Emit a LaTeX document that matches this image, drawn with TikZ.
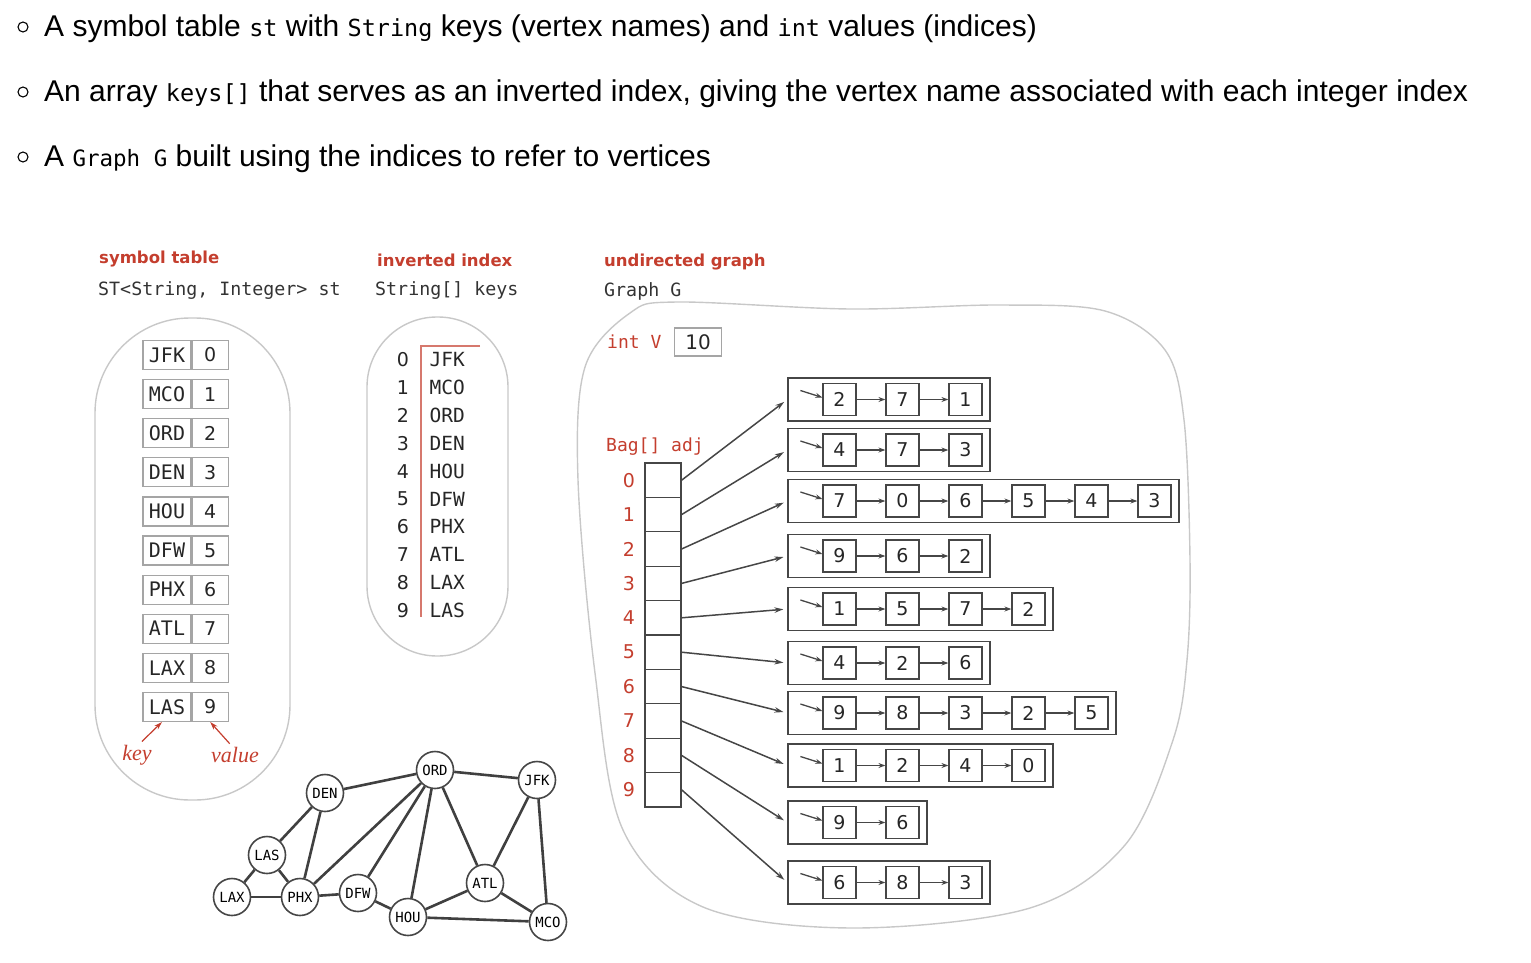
\documentclass[tikz,border=0pt]{standalone}
\usepackage{fontspec}
\setmainfont{Liberation Sans}
\newfontfamily\codefont{DejaVu Sans Mono}
\newfontfamily\labfont{DejaVu Sans}
\newfontfamily\keyfont{Liberation Serif}
\usetikzlibrary{positioning,arrows.meta}
\definecolor{labred}{RGB}{196,62,46}
\definecolor{ovalgray}{RGB}{200,200,200}
\definecolor{boxgray}{RGB}{165,165,165}
\definecolor{linkgray}{RGB}{70,70,70}
\newcommand{\fs}[1]{\fontsize{#1}{#1}\selectfont}
\newcommand{\tcode}[1]{{\codefont\fs{23.5}#1}}

\begin{document}
\begin{tikzpicture}[x=1pt, y=-1pt,
    bullet/.style={draw, circle, line width=1.1pt, minimum size=10pt, inner sep=0pt},
    para/.style={anchor=base west, inner sep=0pt, font=\fs{30}},
    title/.style={anchor=west, inner sep=0pt, text=labred, font=\labfont\bfseries\fs{16.5}},
    decl/.style={anchor=west, inner sep=0pt, font=\codefont\fs{18.3}, text=black!80},
    oval/.style={draw=ovalgray, line width=1.4pt},
    stkey/.style={draw=boxgray, line width=1.2pt, minimum width=48pt, minimum height=29pt, inner sep=0pt, font=\codefont\fs{20}, text=black!85},
    stval/.style={stkey, minimum width=36pt, font=\labfont\fs{19}},
    keylab/.style={text=labred, font=\keyfont\itshape\fs{22}},
    redarrow/.style={-{Stealth[length=8pt, width=5pt]}, draw=labred, line width=1.2pt},
    invnum/.style={font=\labfont\fs{19}, text=black!85},
    invkey/.style={anchor=west, font=\codefont\fs{19.5}, text=black!85},
    redlbl/.style={anchor=west, inner sep=0pt, font=\codefont\fs{18}, text=labred},
    idx/.style={font=\labfont\fs{19}, text=labred},
    numbox/.style={draw=boxgray, line width=1.2pt, minimum width=47pt, minimum height=28pt, inner sep=0pt, font=\labfont\fs{20}, text=black!85},
    cell/.style={draw=linkgray, line width=1.2pt, minimum width=36pt, minimum height=34.4pt, inner sep=0pt},
    bagbox/.style={draw=linkgray, line width=1.3pt, minimum height=43pt, inner sep=0pt},
    listnode/.style={draw=linkgray, line width=1.2pt, fill=white, minimum width=33pt, minimum height=32pt, inner sep=0pt, font=\labfont\fs{19}, text=black!85},
    listarrow/.style={-{Stealth[length=7pt, width=5pt]}, draw=linkgray, line width=1.3pt},
    ptr/.style={-{Stealth[length=9pt, width=5.5pt]}, draw=linkgray, line width=1.5pt, shorten >=4pt},
    vtx/.style={circle, draw=linkgray, line width=1.6pt, fill=white, minimum size=37pt, inner sep=0pt, font=\codefont\fs{14}},
    edge/.style={draw=black!75, line width=2.6pt}
]
\useasboundingbox (0,0) rectangle (1531,963);

% Bulleted text
\node[bullet] (b1) at (23,27) {};
\node[bullet] (b2) at (23,92) {};
\node[bullet] (b3) at (23,157) {};
\node[para] (p1) at (44,37) {A symbol table \tcode{st} with \tcode{String} keys (vertex names) and \tcode{int} values (indices)};
\node[para] (p2) at (44,102) {An array \tcode{keys[]} that serves as an inverted index, giving the vertex name associated with each integer index};
\node[para] (p3) at (44,167) {A {\codefont\fs{22.5}Graph G} built using the indices to refer to vertices};

% Headings
\node[title] (t1) at (99,259) {symbol table};
\node[decl] (d1) at (98,291) {ST<String, Integer> st};
\node[title] (t2) at (377,260) {inverted index};
\node[decl] (d2) at (375,291) {String[] keys};
\node[title] (t3) at (604,262) {undirected graph};
\node[decl] (d3) at (604,291) {Graph G};

% Symbol table
\draw[oval, rounded corners=95pt] (95,318) rectangle (290,800);
\foreach \name [count=\i from 0] in {JFK,MCO,ORD,DEN,HOU,DFW,PHX,ATL,LAX,LAS} {
    \node[stkey] (stk\i) at (167,{355+39.1*\i}) {\name};
    \node[stval, right=0pt of stk\i] (stv\i) {\i};
}
\node[keylab] (keytxt) at (137,755) {key};
\node[keylab] (valtxt) at (235,755) {value};
\draw[redarrow] (keytxt.70) -- ([xshift=-5pt]stk9.south);
\draw[redarrow] (valtxt.115) -- (stv9.south);

% Inverted index
\draw[oval, rounded corners=70pt] (367,317) rectangle (508,656);
\draw[labred!70, line width=1.3pt] (480,346) -- (421,346) -- (421,617);
\foreach \name [count=\i from 0] in {JFK,MCO,ORD,DEN,HOU,DFW,PHX,ATL,LAX,LAS} {
    \node[invnum] (invn\i) at (403,{360+27.8*\i}) {\i};
    \node[invkey] (invk\i) at (426,{360+27.8*\i}) {\name};
}

% Graph data structure
\draw[oval] plot[smooth cycle, tension=0.55] coordinates {(677,302) (850,309) (1000,305) (1105,311) (1165,350) (1184,420) (1190,560) (1187,660) (1173,740) (1125,845) (1030,908) (853,928) (703,907) (623,830) (595,673) (578,480) (585,367) (630,313)};
\node[redlbl] (intv) at (607,342) {int V};
\node[numbox] (vbox) at (698,342) {10};
\node[redlbl] (adjlbl) at (606,447) {Bag[] adj};

\foreach \i in {0,...,9} {
    \node[cell] (cell\i) at (663,{480.2+34.4*\i}) {};
    \node[idx, left=6pt of cell\i] (idx\i) {\i};
}

\foreach \y/\n/\lst [count=\i from 0] in {399.5/3/{2,7,1}, 450/3/{4,7,3}, 501/6/{7,0,6,5,4,3}, 556/3/{9,6,2}, 609/4/{1,5,7,2}, 663/3/{4,2,6}, 713/5/{9,8,3,2,5}, 765.5/4/{1,2,4,0}, 822.5/2/{9,6}, 882.5/3/{6,8,3}} {
    \node[bagbox, minimum width=63pt*\n+13pt] (bag\i) at ({788+(13+63*\n)/2},\y) {};
    \foreach \v [count=\k from 0, remember=\k as \prev (initially -1)] in \lst {
        \node[listnode] (item\i-\k) at ({839.5+63*\k},\y) {\v};
        \ifnum\k>0 \draw[listarrow] (item\i-\prev) -- (item\i-\k); \fi
    }
    \draw[listarrow] ([shift={(-22,-9)}]item\i-0.west) -- ([shift={(0,-2)}]item\i-0.west);
    \draw[ptr] (cell\i.east) -- (bag\i.west);
}

% Drawing of the graph
\node[vtx] (ORD) at (435,770) {ORD};
\node[vtx] (JFK) at (537,780) {JFK};
\node[vtx] (DEN) at (325,793) {DEN};
\node[vtx] (LAS) at (267,855) {LAS};
\node[vtx] (LAX) at (232,897) {LAX};
\node[vtx] (PHX) at (300,897) {PHX};
\node[vtx] (DFW) at (358,893) {DFW};
\node[vtx] (HOU) at (408,917) {HOU};
\node[vtx] (ATL) at (485,883) {ATL};
\node[vtx] (MCO) at (548,922) {MCO};
\foreach \a/\b in {ORD/JFK, ORD/DEN, ORD/PHX, ORD/DFW, ORD/HOU, ORD/ATL, DEN/LAS, DEN/PHX, LAS/LAX, LAS/PHX, LAX/PHX, PHX/DFW, DFW/HOU, HOU/ATL, HOU/MCO, ATL/MCO, ATL/JFK, JFK/MCO}
    \draw[edge] (\a) -- (\b);

\end{tikzpicture}
\end{document}
